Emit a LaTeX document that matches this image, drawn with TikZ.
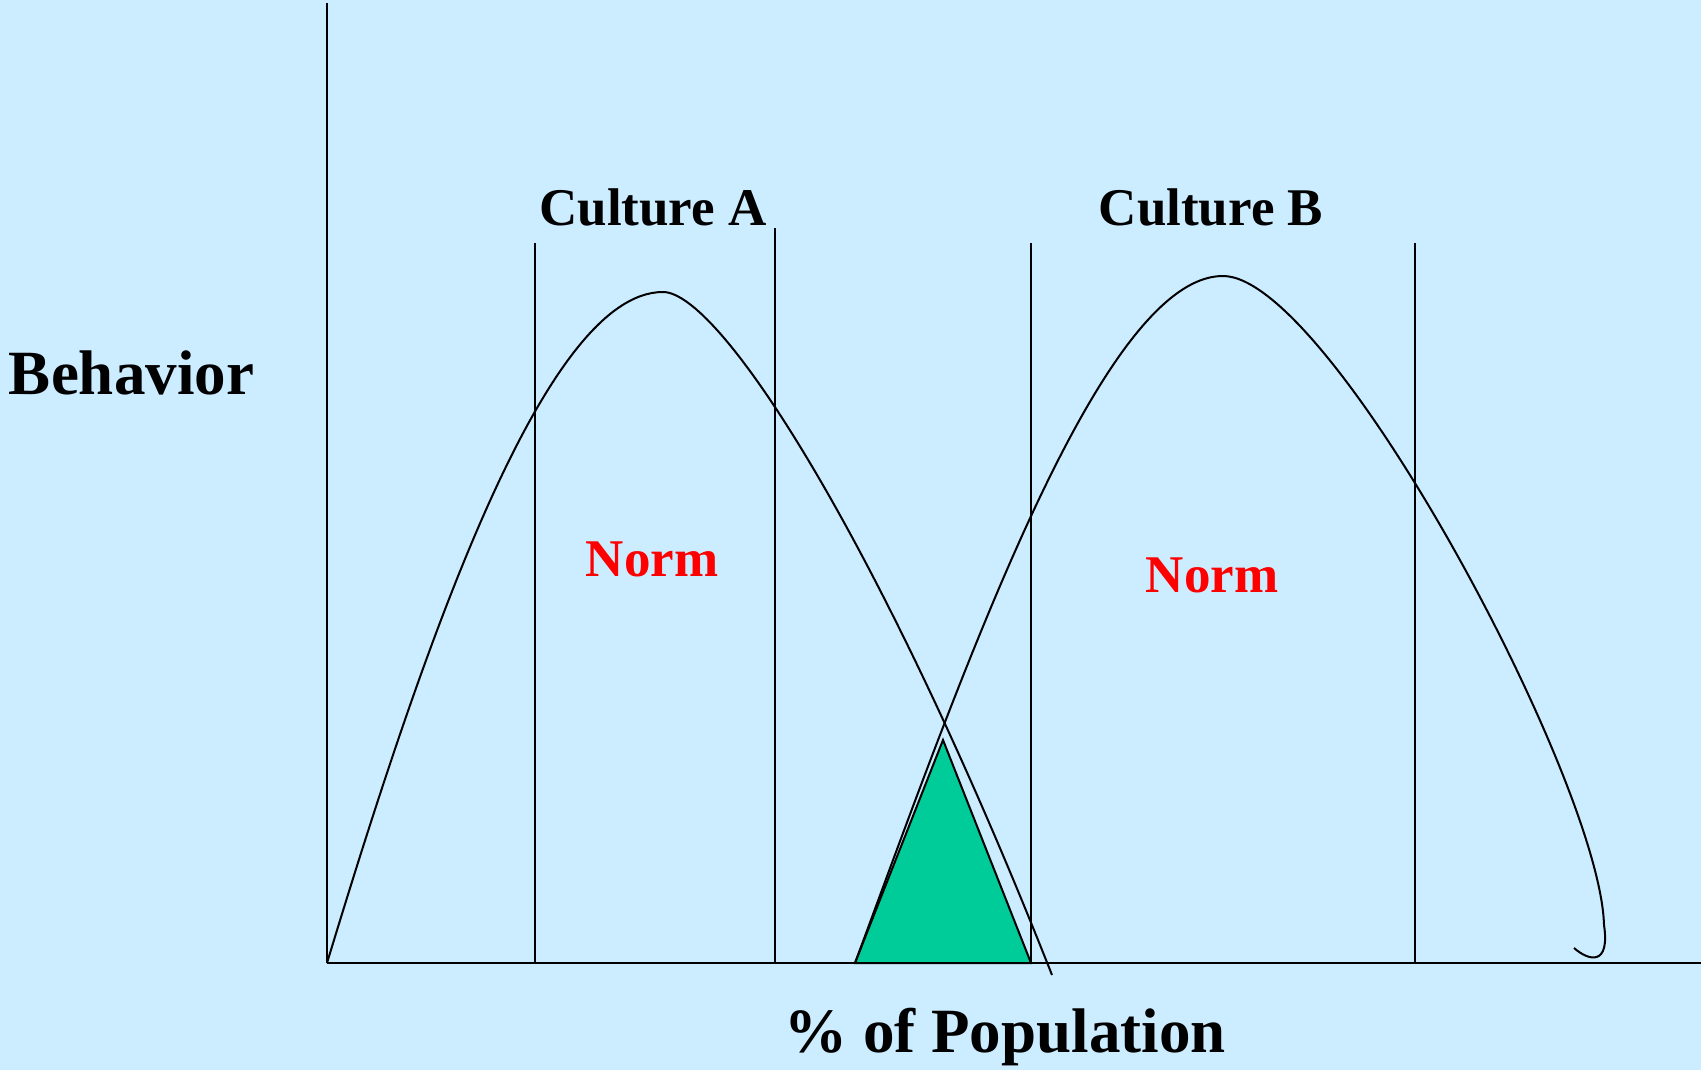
\documentclass[tikz,border=0pt]{standalone}
\usepackage{fontspec}
\setmainfont{Liberation Serif}
\usetikzlibrary{positioning}
\definecolor{skyback}{RGB}{204,236,255}
\definecolor{overlapgreen}{RGB}{0,204,153}

\begin{document}
\begin{tikzpicture}[x=0.5pt,y=-0.5pt,line width=1pt,
    biglabel/.style={font=\bfseries\fontsize{31.5}{36}\selectfont,inner sep=0pt},
    midlabel/.style={font=\bfseries\fontsize{26.5}{30}\selectfont,inner sep=0pt},
    normlabel/.style={midlabel,text=red}]
            \fill[skyback] (0,0) rectangle (1701,1070);
            \useasboundingbox (0,0) rectangle (1701,1070);
            \coordinate (O) at (327,963);
            \coordinate (ytop) at (327,3);
            \coordinate (xend) at (1701,963);
            \filldraw[fill=overlapgreen] (855,963)--(943,740)--(1031,963)--cycle;
            \draw (O)--(ytop);
            \draw (O)--(xend);
            \foreach \x/\t in {535/243,775/228,1031/243,1415/243}
                \draw (\x,\t)--(\x,963);
            \draw (O) .. controls (425,640) and (545,292) .. (663,292)
                      .. controls (720,292) and (880,540) .. (1052,975);
            \draw (855,963) .. controls (960,680) and (1100,276) .. (1223,276)
                      .. controls (1330,276) and (1600,780) .. (1604,925)
                      .. controls (1610,965) and (1590,962) .. (1574,948);
            \node[midlabel,anchor=base] (cultA) at (653,225) {Culture A};
            \node[midlabel,anchor=base] (cultB) at (1211,225) {Culture B};
            \node[normlabel,anchor=base] (normA) at (652,576) {Norm};
            \node[normlabel,anchor=base] (normB) at (1212,592) {Norm};
            \node[biglabel,anchor=base west] (behav) at (8,394) {Behavior};
            \node[biglabel,anchor=base] (popul) at (1005,1052) {\% of Population};
        \end{tikzpicture}
\end{document}
